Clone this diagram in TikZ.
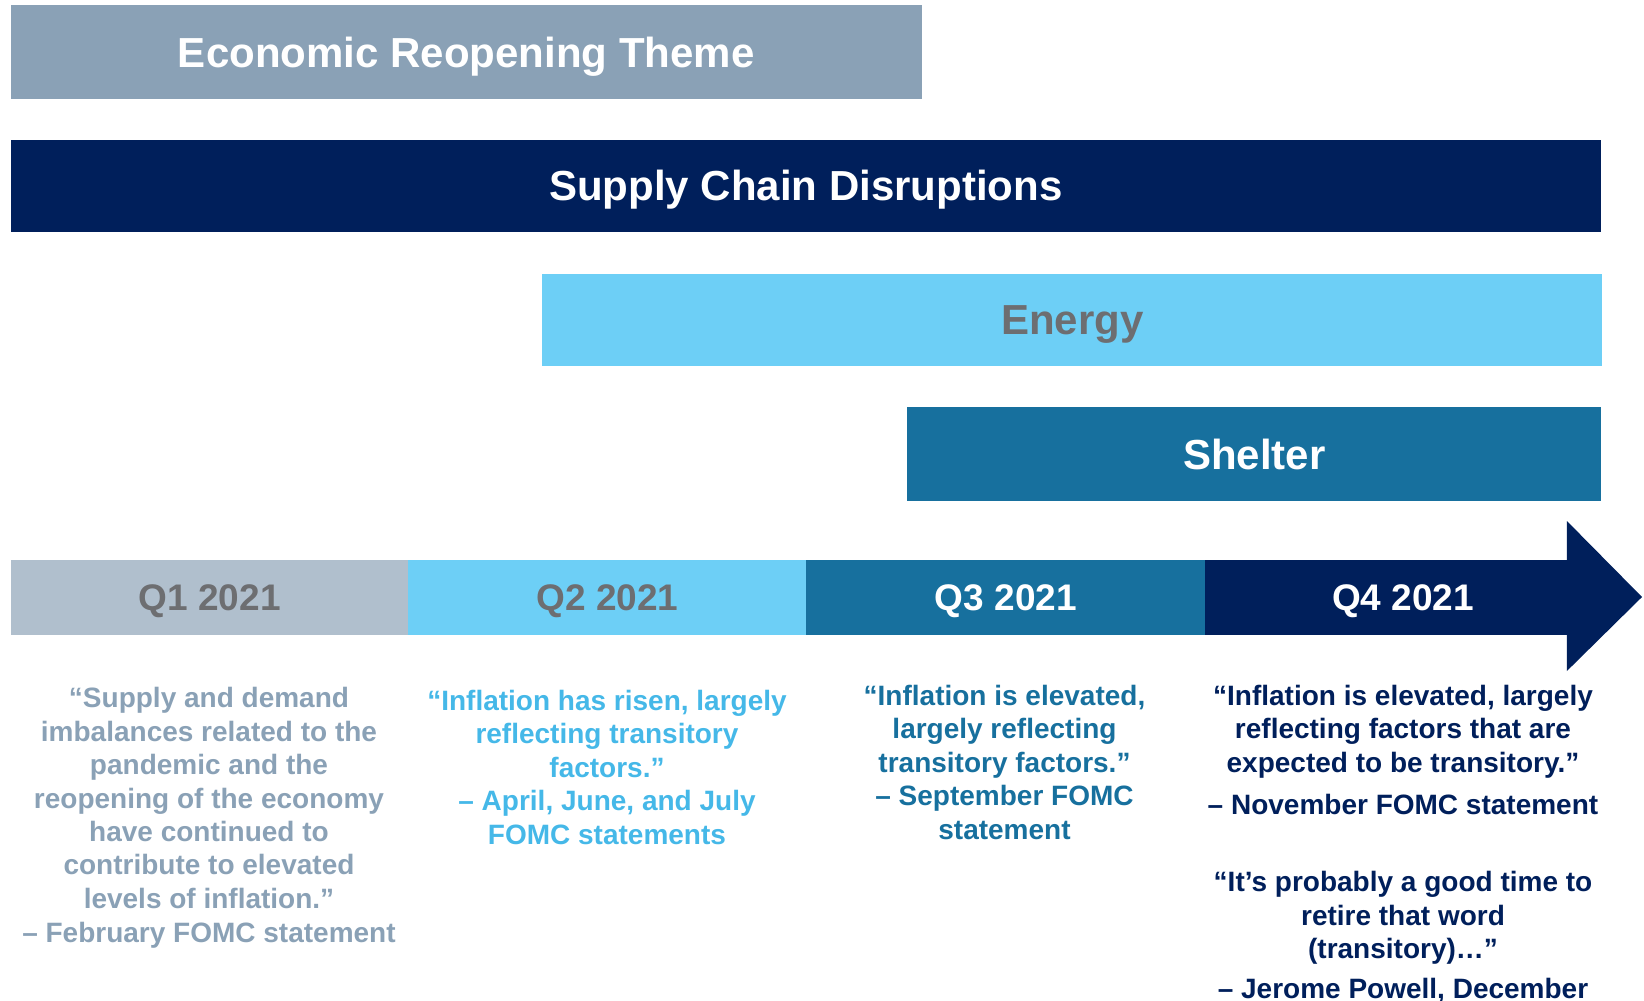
\documentclass[tikz,border=0pt]{standalone}
\usepackage{fontspec}
\setmainfont{Liberation Sans}
\definecolor{econ}{HTML}{8AA1B6}
\definecolor{navy}{HTML}{001F5B}
\definecolor{sky}{HTML}{6DCFF6}
\definecolor{teal}{HTML}{17709E}
\definecolor{qone}{HTML}{B0BFCD}
\definecolor{txtgray}{HTML}{6D6E71}
\definecolor{qtwotxt}{HTML}{45B8E8}
\begin{document}
\begin{tikzpicture}[x=1pt,y=-1pt,
  band/.style={draw=none, inner sep=0pt, anchor=north west, text height=30pt, text depth=0pt,
    font=\fontsize{42}{48}\selectfont\bfseries},
  seg/.style={draw=none, inner sep=0pt, anchor=north west, minimum height=74.5pt,
    text height=26.6pt, text depth=0pt,
    font=\fontsize{37}{42}\selectfont\bfseries},
  qlab/.style={inner sep=0pt, text height=26.6pt, text depth=0pt,
    font=\fontsize{37}{42}\selectfont\bfseries},
  quote/.style={align=center, inner sep=0pt, anchor=north,
    font=\fontsize{28}{33.5}\selectfont\bfseries}]
\useasboundingbox (0,0) rectangle (1644,1001);
\clip (0,0) rectangle (1644,1001);

% theme bands
\node[band, fill=econ, text=white, minimum width=911pt, minimum height=94pt]
  (econ) at (10.5,5) {Economic Reopening Theme};
\node[band, fill=navy, text=white, minimum width=1590.5pt, minimum height=92.5pt]
  (supply) at (10.5,139.5) {Supply Chain Disruptions};
\node[band, fill=sky, text=txtgray, minimum width=1060pt, minimum height=92.5pt]
  (energy) at (542,273.5) {Energy};
\node[band, fill=teal, text=white, minimum width=694pt, minimum height=94pt]
  (shelter) at (907,407) {Shelter};

% timeline
\node[seg, fill=qone, text=txtgray, minimum width=398pt] (q1) at (10.5,560) {Q1 2021};
\node[seg, fill=sky, text=txtgray, minimum width=398.5pt] (q2) at (408,560) {Q2 2021};
\node[seg, fill=teal, text=white, minimum width=399.5pt] (q3) at (806,560) {Q3 2021};
\node[seg, fill=navy, minimum width=362pt] (q4) at (1205,560) {};
\coordinate (tip) at (1642,597);
\fill[navy] ([xshift=-0.5pt]q4.north east) -- ++(0,-39) -- (tip)
  -- ([xshift=-0.5pt]q4.south east |- 0,671) -- ([xshift=-0.5pt]q4.south east) -- cycle;
\node[qlab, text=white] (q4lab) at (1403,597) {Q4 2021};

% quotes
\node[quote, text=econ] (quote1) at (209,687) {“Supply and demand\\imbalances related to the\\pandemic and the\\reopening of the economy\\have continued to\\contribute to elevated\\levels of inflation.”\\– February FOMC statement};
\node[quote, text=qtwotxt] (quote2) at (607,690) {“Inflation has risen, largely\\reflecting transitory\\factors.”\\– April, June, and July\\FOMC statements};
\node[quote, text=teal] (quote3) at (1004.5,685) {“Inflation is elevated,\\largely reflecting\\transitory factors.”\\– September FOMC\\statement};
\node[quote, text=navy] (quote4) at (1403,685) {“Inflation is elevated, largely\\reflecting factors that are\\expected to be transitory.”\\[8.5pt]– November FOMC statement};
\node[quote, text=navy] (quote5) at (1403,871) {“It’s probably a good time to\\retire that word\\(transitory)…”\\[6.5pt]– Jerome Powell, December};
\end{tikzpicture}
\end{document}
